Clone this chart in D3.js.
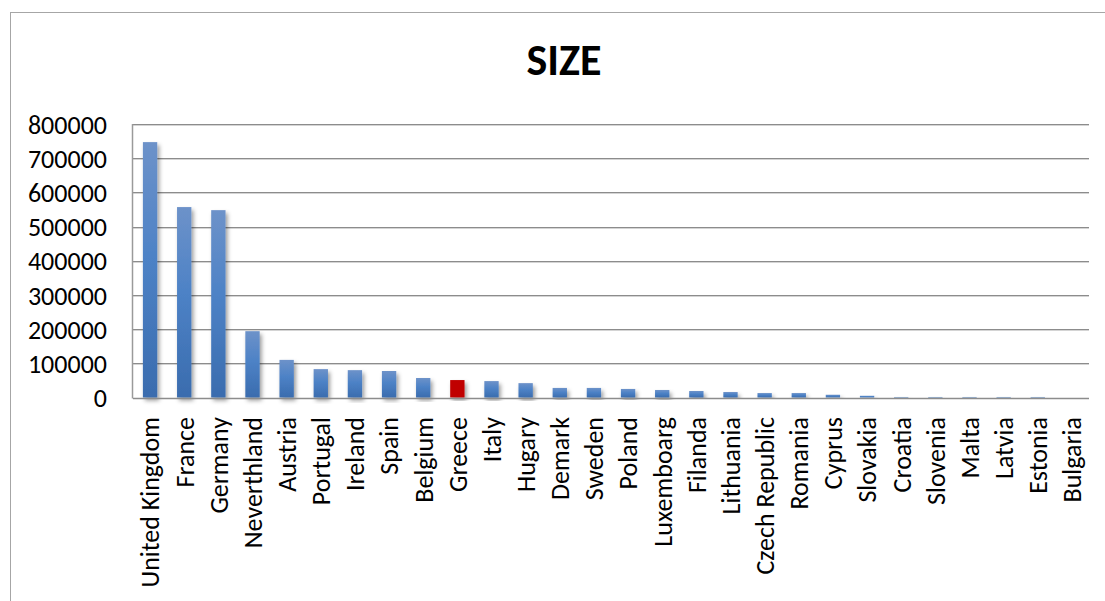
<!DOCTYPE html>
<html>
<head>
<meta charset="utf-8">
<script src="https://cdn.jsdelivr.net/npm/d3@7"></script>
<style>
  html, body { margin: 0; padding: 0; background: #fff; }
  svg { display: block; }
  text { font-family: Carlito, Calibri, Lato, "Open Sans", sans-serif; fill: #000; }
</style>
</head>
<body>
<svg id="chart" width="1105" height="601"></svg>
<script>
// Chart data
const categories = [
  "United Kingdom", "France", "Germany", "Neverthland", "Austria", "Portugal",
  "Ireland", "Spain", "Belgium", "Greece", "Italy", "Hugary", "Demark", "Sweden",
  "Poland", "Luxemboarg", "Filanda", "Lithuania", "Czech Republic", "Romania",
  "Cyprus", "Slovakia", "Croatia", "Slovenia", "Malta", "Latvia", "Estonia", "Bulgaria"
];
const sizeValues = [
  747000, 557000, 548000, 194000, 110000, 83000,
  80000, 77500, 57000, 51000, 48000, 42000, 28000, 28000,
  25000, 22000, 19000, 16000, 13000, 13000,
  8000, 5000, 1500, 1500, 1500, 1500, 1500, 0
];
const highlighted = ["Greece"];
const yTicks = [0, 100000, 200000, 300000, 400000, 500000, 600000, 700000, 800000];
const chartTitle = "SIZE";

const svg = d3.select("#chart");
const W = 1105, H = 601;
const plot = { left: 133, right: 1089, top: 124, bottom: 397.5 };

// Outer frame (only top and left edges fall inside the view)
svg.append("rect")
  .attr("x", 10.5).attr("y", 12.5)
  .attr("width", W + 20).attr("height", H + 20)
  .attr("fill", "#fff")
  .attr("stroke", "#a6a6a6").attr("stroke-width", 1);

const defs = svg.append("defs");
const blueGrad = defs.append("linearGradient")
  .attr("id", "blueGrad").attr("x1", 0).attr("y1", 0).attr("x2", 0).attr("y2", 1);
blueGrad.append("stop").attr("offset", "0%").attr("stop-color", "#6d92c9");
blueGrad.append("stop").attr("offset", "45%").attr("stop-color", "#4d82c6");
blueGrad.append("stop").attr("offset", "100%").attr("stop-color", "#3a6cae");

const shadow = defs.append("filter").attr("id", "barShadow")
  .attr("x", "-50%").attr("y", "-10%").attr("width", "200%").attr("height", "130%");
shadow.append("feDropShadow")
  .attr("dx", 2).attr("dy", 3).attr("stdDeviation", 2.2)
  .attr("flood-color", "#000").attr("flood-opacity", 0.4);

const x = d3.scaleBand()
  .domain(categories)
  .range([plot.left, plot.right])
  .paddingInner(0.58)
  .paddingOuter(0.29);

const y = d3.scaleLinear()
  .domain([0, 800000])
  .range([plot.bottom, plot.top]);

// Horizontal gridlines
const grid = svg.append("g");
grid.selectAll("line.lt")
  .data(yTicks.filter(t => t > 0))
  .join("line")
  .attr("x1", plot.left).attr("x2", plot.right)
  .attr("y1", d => Math.round(y(d)) + 1.5).attr("y2", d => Math.round(y(d)) + 1.5)
  .attr("stroke", "#d4d4d4").attr("stroke-width", 1);
grid.selectAll("line.dk")
  .data(yTicks.filter(t => t > 0))
  .join("line")
  .attr("x1", plot.left).attr("x2", plot.right)
  .attr("y1", d => Math.round(y(d)) + 0.5).attr("y2", d => Math.round(y(d)) + 0.5)
  .attr("stroke", "#8c8c8c").attr("stroke-width", 1);

// Bars
svg.append("g")
  .selectAll("rect")
  .data(categories.map((c, i) => ({ c, v: sizeValues[i] })))
  .join("rect")
  .attr("x", d => x(d.c))
  .attr("width", x.bandwidth())
  .attr("y", d => y(d.v))
  .attr("height", d => y(0) - y(d.v))
  .attr("fill", d => highlighted.includes(d.c) ? "#c00000" : "url(#blueGrad)")
  .attr("filter", d => d.v > 0 ? "url(#barShadow)" : null);

// Axes lines
svg.append("line")
  .attr("x1", plot.left - 0.5).attr("x2", plot.left - 0.5)
  .attr("y1", plot.top).attr("y2", plot.bottom + 1)
  .attr("stroke", "#9a9a9a").attr("stroke-width", 1.5);
svg.append("line")
  .attr("x1", plot.left).attr("x2", plot.right)
  .attr("y1", Math.round(y(0)) + 0.5).attr("y2", Math.round(y(0)) + 0.5)
  .attr("stroke", "#8c8c8c").attr("stroke-width", 1.5);

// Y axis labels
const yAxis = d3.axisLeft(y).tickValues(yTicks).tickSize(0).tickPadding(0)
  .tickFormat(d3.format("d"));
const yG = svg.append("g")
  .attr("transform", `translate(${plot.left - 26},0)`)
  .call(yAxis);
yG.select(".domain").remove();
yG.selectAll("text")
  .style("font-family", "Carlito, Calibri, Lato, sans-serif")
  .style("font-size", "26px")
  .attr("fill", "#000")
  .attr("dy", "0.35em");

// X axis labels (vertical)
const xAxis = d3.axisBottom(x).tickSize(0).tickPadding(0);
const xG = svg.append("g")
  .attr("transform", `translate(0,${plot.bottom})`)
  .call(xAxis);
xG.select(".domain").remove();
xG.selectAll("text")
  .style("font-family", "Carlito, Calibri, Lato, sans-serif")
  .style("font-size", "26px")
  .attr("fill", "#000")
  .attr("text-anchor", "end")
  .attr("transform", "rotate(-90)")
  .attr("x", -19.5)
  .attr("y", 0)
  .attr("dy", "0.36em");

// Title
svg.append("text")
  .attr("x", 564).attr("y", 75)
  .attr("text-anchor", "middle")
  .style("font-size", "44px")
  .style("font-weight", "bold")
  .text(chartTitle);
</script>
</body>
</html>
